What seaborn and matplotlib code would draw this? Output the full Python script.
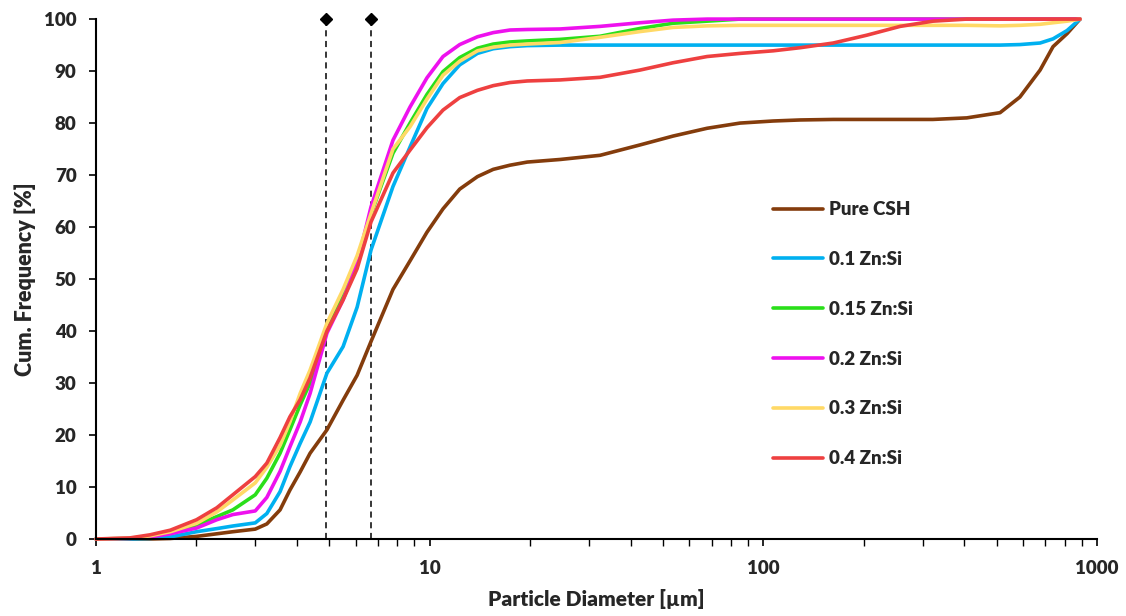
import numpy as np
import pandas as pd
import matplotlib
matplotlib.use("Agg")
import matplotlib.pyplot as plt
import matplotlib.ticker as mticker
import seaborn as sns

# ---- data ----
diameter = [1.0, 1.26, 1.45, 1.67, 2.0, 2.3, 2.57, 3.0, 3.25, 3.56, 3.81, 4.09, 4.38,
            4.92, 5.5, 6.06, 6.67, 7.76, 8.73, 9.81, 10.96, 12.3, 13.9, 15.5, 17.4,
            19.6, 24.6, 32.4, 42.7, 53.6, 67.8, 85.1, 107, 129, 162, 204, 257, 322,
            407, 512, 587, 675, 738, 813, 889]

pure_csh = [0, 0, 0, 0.1, 0.5, 1.0, 1.4, 1.9, 2.9, 5.6, 9.4, 12.9, 16.5,
            21, 26.7, 31.5, 38, 48, 53.5, 59, 63.5, 67.3, 69.7, 71.1, 71.9,
            72.5, 73, 73.8, 75.8, 77.5, 79, 80, 80.4, 80.6, 80.7, 80.7, 80.7, 80.7,
            81, 82, 85, 90.2, 94.7, 97.2, 100]
zn_01 = [0, 0, 0.1, 0.4, 1.4, 2.0, 2.5, 3.1, 4.9, 9.1, 13.9, 18.4, 22.5,
         31.9, 37, 44.6, 55.6, 67.8, 75.4, 82.8, 87.6, 91.2, 93.4, 94.3, 94.7,
         94.9, 95, 95, 95, 95, 95, 95, 95, 95, 95, 95, 95, 95,
         95, 95, 95.1, 95.4, 96.2, 97.8, 100]
zn_015 = [0, 0.1, 0.5, 1.2, 2.7, 4.3, 5.6, 8.5, 11.7, 16.5, 21, 25.8, 30,
          40.6, 47, 53.5, 62.5, 74.2, 80, 85.5, 89.9, 92.6, 94.4, 95.2, 95.6,
          95.8, 96.1, 96.7, 98.2, 99.2, 99.6, 100, 100, 100, 100, 100, 100, 100,
          100, 100, 100, 100, 100, 100, 100]
zn_02 = [0, 0.1, 0.4, 1.0, 2.1, 3.7, 4.7, 5.4, 8, 13, 17.7, 22.5, 28,
         39.6, 46, 53, 63.9, 76.7, 83.1, 88.7, 92.8, 95.1, 96.6, 97.4, 97.9,
         98, 98.1, 98.6, 99.3, 99.8, 100, 100, 100, 100, 100, 100, 100, 100,
         100, 100, 100, 100, 100, 100, 100]
zn_03 = [0, 0.15, 0.6, 1.4, 3.0, 5.2, 7.5, 10.8, 13.8, 18, 22.5, 28, 32.5,
         41.5, 48, 54.5, 62.6, 75, 79.3, 84.6, 89.2, 91.9, 93.9, 94.6, 95,
         95.2, 95.5, 96.5, 97.6, 98.4, 98.7, 98.8, 98.8, 98.8, 98.8, 98.8, 98.8, 98.8,
         98.8, 98.7, 98.8, 99, 99.3, 99.6, 100]
zn_04 = [0, 0.2, 0.8, 1.7, 3.7, 6, 8.5, 12, 14.6, 19.5, 23.5, 26.8, 31,
         40, 46, 52, 61, 70.4, 74.8, 79.1, 82.5, 84.9, 86.3, 87.2, 87.8,
         88.1, 88.3, 88.8, 90.2, 91.6, 92.8, 93.4, 93.9, 94.5, 95.4, 96.9, 98.6, 99.6,
         100, 100, 100, 100, 100, 100, 100]

series_names = ["Pure CSH", "0.1 Zn:Si", "0.15 Zn:Si", "0.2 Zn:Si", "0.3 Zn:Si", "0.4 Zn:Si"]
series_values = [pure_csh, zn_01, zn_015, zn_02, zn_03, zn_04]
series_colors = ["#843C0C", "#00B0F0", "#2ADF1A", "#EE11EE", "#FFD966", "#EE4040"]

marker_diameters = [4.89, 6.67]   # dashed reference lines with diamonds at top

x_ticks = [1, 10, 100, 1000]
x_tick_labels = ["1", "10", "100", "1000"]
y_ticks = list(range(0, 101, 10))

# ---- long table ----
rows = []
for name, vals in zip(series_names, series_values):
    for d, v in zip(diameter, vals):
        rows.append({"Diameter": d, "Cum": v, "Sample": name})
df = pd.DataFrame(rows)

sns.set_style("ticks")
plt.rcParams["font.family"] = ["Lato", "DejaVu Sans"]
plt.rcParams["font.weight"] = "heavy"

fig = plt.figure(figsize=(11.26, 6.16), dpi=100)
ax = fig.add_axes([0.0853, 0.125, 0.889, 0.844])

for xd in marker_diameters:
    ax.plot([xd, xd], [0, 100], ls=(0, (4, 3)), color="black", lw=1.1, zorder=1)
    ax.plot([xd], [100], marker="D", ms=6.5, color="black", clip_on=False, zorder=5)

sns.lineplot(data=df, x="Diameter", y="Cum", hue="Sample", hue_order=series_names,
             palette=dict(zip(series_names, series_colors)), lw=2.6, ax=ax,
             sort=False, estimator=None, legend=True)
for ln in ax.get_lines():
    ln.set_clip_on(False)
    ln.set_solid_joinstyle("round")

ax.set_xscale("log")
ax.set_xlim(1, 1000)
ax.set_ylim(0, 100)
ax.set_xticks(x_ticks)
ax.set_xticklabels(x_tick_labels)
ax.xaxis.set_minor_locator(mticker.LogLocator(base=10, subs=np.arange(2, 10)))
ax.xaxis.set_minor_formatter(mticker.NullFormatter())
ax.set_yticks(y_ticks)

for s in ["top", "right"]:
    ax.spines[s].set_visible(False)
for s in ["left", "bottom"]:
    ax.spines[s].set_linewidth(1.5)
    ax.spines[s].set_color("black")

ax.tick_params(axis="both", which="major", labelsize=13.5, length=5, width=1.2,
               color="black", direction="out")
ax.tick_params(axis="x", which="minor", length=5, width=1.0, color="black")
ax.tick_params(axis="x", which="major", pad=10)
ax.tick_params(axis="y", which="major", pad=9)
for lab in ax.get_xticklabels() + ax.get_yticklabels():
    lab.set_fontweight("heavy")

ax.set_xlabel("Particle Diameter [µm]", fontsize=15, fontweight="heavy", labelpad=9)
ax.set_ylabel("Cum. Frequency [%]", fontsize=15.5, fontweight="heavy", labelpad=6)

leg = ax.legend(loc="center left", bbox_to_anchor=(0.676, 0.394), frameon=False,
                borderpad=0, borderaxespad=0, handlelength=2.7, handletextpad=0.3,
                labelspacing=1.75, prop={"size": 13.5, "weight": "heavy"})
for h in leg.legend_handles:
    h.set_linewidth(2.6)

fig.savefig("out.png", dpi=100)
